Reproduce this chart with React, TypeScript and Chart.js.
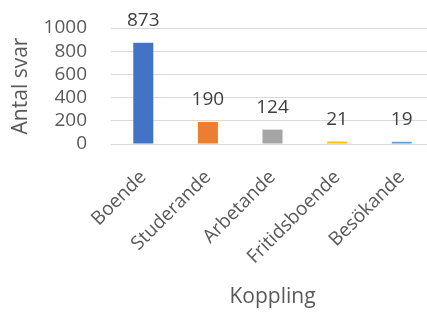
import React, { useEffect, useRef } from "react";
import { Chart, registerables } from "chart.js";

Chart.register(...registerables);

const categories = ["Boende", "Studerande", "Arbetande", "Fritidsboende", "Besökande"];
const values = [873, 190, 124, 21, 19];
const barColors = ["#4472C4", "#ED7D31", "#A5A5A5", "#FFC000", "#5B9BD5"];
const yTicks = [0, 200, 400, 600, 800, 1000];

const FONT = "'Open Sans', sans-serif";
const TEXT = "#595959";

const valueLabels = {
  id: "valueLabels",
  afterDatasetsDraw(chart: any) {
    const ctx = chart.ctx;
    const meta = chart.getDatasetMeta(0);
    ctx.save();
    ctx.font = `19px ${FONT}`;
    ctx.fillStyle = "#404040";
    ctx.textAlign = "center";
    ctx.textBaseline = "alphabetic";
    meta.data.forEach((bar: any, i: number) => {
      ctx.fillText(String(values[i]), bar.x, bar.y - 17);
    });
    ctx.restore();
  },
};

export default function App() {
  const ref = useRef<HTMLCanvasElement>(null);
  useEffect(() => {
    const chart = new Chart(ref.current!, {
      type: "bar",
      data: {
        labels: categories,
        datasets: [
          {
            data: values,
            backgroundColor: barColors,
            barPercentage: 0.31,
            categoryPercentage: 1,
          },
        ],
      },
      options: {
        responsive: false,
        animation: false,
        layout: { padding: { top: 28, right: 0, left: 0, bottom: 0 } },
        plugins: { legend: { display: false }, tooltip: { enabled: false } },
        scales: {
          x: {
            grid: { display: false, drawTicks: false },
            border: { color: "#D9D9D9", width: 1 },
            ticks: {
              minRotation: 45,
              maxRotation: 45,
              autoSkip: false,
              padding: 22,
              color: TEXT,
              font: { family: FONT, size: 19 },
            },
            title: {
              display: true,
              text: "Koppling",
              color: TEXT,
              font: { family: FONT, size: 21 },
              padding: { top: 0, bottom: 2 },
            },
            afterFit(scale: any) {
              scale.height = 168;
              scale.paddingLeft = 0;
              scale.paddingRight = 0;
            },
          },
          y: {
            min: 0,
            max: 1000,
            afterBuildTicks(scale: any) {
              scale.ticks = yTicks.map((v) => ({ value: v }));
            },
            grid: { color: "#D9D9D9", drawTicks: false },
            border: { display: false },
            ticks: {
              autoSkip: false,
              padding: 24,
              color: TEXT,
              font: { family: FONT, size: 19 },
              callback: (v: any) => String(v),
            },
            title: {
              display: true,
              text: "Antal svar",
              color: TEXT,
              font: { family: FONT, size: 21 },
              padding: { top: 8, bottom: 0 },
            },
            afterFit(scale: any) {
              scale.width = 111;
              scale.paddingTop = 0;
              scale.paddingBottom = 0;
            },
          },
        },
      },
      plugins: [valueLabels],
    });
    return () => chart.destroy();
  }, []);
  return (
    <div style={{ position: "fixed", left: 0, top: 0, width: 427, height: 312, overflow: "hidden", background: "#fff" }}>
      <canvas ref={ref} width={434} height={312} style={{ display: "block" }} />
    </div>
  );
}
